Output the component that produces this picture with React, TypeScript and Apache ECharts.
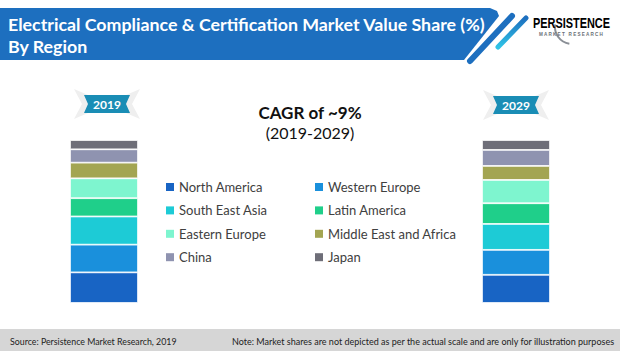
import React, { useEffect, useRef } from "react";
import * as echarts from "echarts";

const regions = [
  "North America",
  "Western Europe",
  "South East Asia",
  "Latin America",
  "Eastern Europe",
  "Middle East and Africa",
  "China",
  "Japan",
];
const colors = ["#1864c4", "#1a90dc", "#1dcbd6", "#1fcf8a", "#7ef5cf", "#a3a552", "#8f93b0", "#6e6e78"];
const share2019 = [18.8, 17.0, 17.3, 11.2, 12.2, 9.6, 8.2, 5.7];
const share2029 = [17.3, 15.3, 15.9, 12.7, 14.3, 8.6, 9.8, 6.1];
const years = ["2019", "2029"];
const legendCol1 = ["North America", "South East Asia", "Eastern Europe", "China"];
const legendCol2 = ["Western Europe", "Latin America", "Middle East and Africa", "Japan"];

function badge(cx: number, cy: number, label: string) {
  const w = 46, h = 18, n = 4;
  const l = cx - w / 2, r = cx + w / 2, t = cy - h / 2, b = cy + h / 2;
  return [
    {
      type: "polygon",
      shape: { points: [[l - 10, t - 6], [l + 4, t], [l + 4, b], [l - 10, b + 6], [l - 2, cy]] },
      style: { fill: "#efefef" },
    },
    {
      type: "polygon",
      shape: { points: [[r + 10, t - 6], [r - 4, t], [r - 4, b], [r + 10, b + 6], [r + 2, cy]] },
      style: { fill: "#efefef" },
    },
    {
      type: "polygon",
      shape: { points: [[l, t], [r, t], [r - n, cy], [r, b], [l, b], [l + n, cy]] },
      style: { fill: "#1a8db5" },
    },
    {
      type: "text",
      style: {
        text: label, x: cx, y: cy + 0.5, fill: "#ffffff", fontSize: 12, fontWeight: "bold",
        fontFamily: "Lato", textAlign: "center", textVerticalAlign: "middle",
      },
    },
  ];
}

export default function App() {
  const ref = useRef<HTMLDivElement>(null);
  useEffect(() => {
    if (!ref.current) return;
    const chart = echarts.init(ref.current, undefined, { renderer: "svg" });
    const series: any[] = [];
    regions.forEach((name, i) => {
      series.push({
        name, type: "bar", stack: "a", xAxisIndex: 0, yAxisIndex: 0, barWidth: "100%",
        data: [share2019[i]],
        itemStyle: { color: colors[i], borderColor: "#ffffff", borderWidth: 0.8 },
      });
      series.push({
        name, type: "bar", stack: "b", xAxisIndex: 1, yAxisIndex: 1, barWidth: "100%",
        data: [share2029[i]],
        itemStyle: { color: colors[i], borderColor: "#ffffff", borderWidth: 0.8 },
      });
    });
    const legendBase = {
      orient: "vertical", icon: "rect", itemWidth: 8, itemHeight: 8, itemGap: 7.4,
      selectedMode: false,
      itemStyle: { borderWidth: 0 },
      textStyle: { fontSize: 13, color: "#404040", fontFamily: "Lato", lineHeight: 16 },
    };
    chart.setOption({
      animation: false,
      backgroundColor: "#ffffff",
      grid: [
        { left: 70, top: 140, width: 68, height: 163 },
        { left: 482, top: 140, width: 68, height: 163 },
      ],
      xAxis: [
        { type: "category", gridIndex: 0, data: [years[0]], show: false },
        { type: "category", gridIndex: 1, data: [years[1]], show: false },
      ],
      yAxis: [
        { type: "value", gridIndex: 0, min: 0, max: 100, show: false },
        { type: "value", gridIndex: 1, min: 0, max: 100, show: false },
      ],
      legend: [
        { ...legendBase, left: 161, top: 174, data: legendCol1 },
        { ...legendBase, left: 310, top: 174, data: legendCol2 },
      ],
      series,
      graphic: [
        {
          type: "polygon",
          shape: { points: [[0, 8], [490, 8], [497, 11], [499, 16], [464, 60], [0, 60]] },
          style: { fill: "#1d6fbf" },
        },
        {
          type: "line",
          shape: { x1: 512, y1: 16, x2: 470, y2: 61 },
          style: { stroke: "#1d6fbf", lineWidth: 6, lineCap: "round" },
        },
        {
          type: "line",
          shape: { x1: 526, y1: 18, x2: 498, y2: 47 },
          style: {
            stroke: new echarts.graphic.LinearGradient(0, 0, 0, 1, [
              { offset: 0, color: "#1d6fbf" },
              { offset: 1, color: "#2fc3e6" },
            ]),
            lineWidth: 5, lineCap: "round",
          },
        },
        {
          type: "text",
          style: {
            text: "Electrical Compliance & Certification Market Value Share (%)",
            x: 8, y: 24, fill: "#ffffff", fontSize: 17.8, fontWeight: "bold", fontFamily: "Lato",
            textVerticalAlign: "middle",
          },
        },
        {
          type: "text",
          style: {
            text: "By Region", x: 8, y: 46, fill: "#ffffff", fontSize: 17.8, fontWeight: "bold",
            fontFamily: "Lato", textVerticalAlign: "middle",
          },
        },
        {
          type: "arc",
          shape: { cx: 572, cy: 27, r: 17, startAngle: Math.PI * 0.55, endAngle: Math.PI * 1.05 },
          style: { stroke: "#8a8f96", lineWidth: 2, fill: "none" },
        },
        {
          type: "text",
          x: 533, y: 24, scaleX: 0.78,
          style: {
            text: "PERSISTENCE", x: 0, y: 0, fontSize: 14, fontWeight: "bold",
            fontFamily: "Liberation Sans", textVerticalAlign: "middle",
            fill: new echarts.graphic.LinearGradient(0, 0, 1, 0, [
              { offset: 0, color: "#2a6cb8" },
              { offset: 1, color: "#23a8c4" },
            ]),
          },
        },
        {
          type: "text",
          style: {
            text: "M A R K E T   R E S E A R C H", x: 571, y: 34, fontSize: 4.6, fontWeight: "bold",
            fontFamily: "Liberation Sans", fill: "#6a6f76", textAlign: "center", textVerticalAlign: "middle",
          },
        },
        ...badge(107, 104, years[0]),
        ...badge(516, 105, years[1]),
        {
          type: "text",
          style: {
            text: "CAGR of ~9%", x: 310, y: 112, fill: "#111111", fontSize: 17, fontWeight: "bold",
            fontFamily: "Lato", textAlign: "center", textVerticalAlign: "middle",
          },
        },
        {
          type: "text",
          style: {
            text: "(2019-2029)", x: 310, y: 132, fill: "#111111", fontSize: 16,
            fontFamily: "Lato", textAlign: "center", textVerticalAlign: "middle",
          },
        },
        {
          type: "rect",
          shape: { x: 0, y: 329, width: 620, height: 22 },
          style: { fill: "#d6d6d6" },
        },
        {
          type: "text",
          style: {
            text: "Source: Persistence Market Research, 2019", x: 10, y: 341, fill: "#222222",
            fontSize: 8.8, fontFamily: "Lato", textVerticalAlign: "middle",
          },
        },
        {
          type: "text",
          style: {
            text: "Note: Market shares are not depicted as per the actual scale and are only for illustration purposes",
            x: 232, y: 341, fill: "#222222", fontSize: 9, fontFamily: "Lato", textVerticalAlign: "middle",
          },
        },
      ],
    });
    return () => chart.dispose();
  }, []);
  return (
    <div
      ref={ref}
      style={{ position: "fixed", left: 0, top: 0, width: 620, height: 351, background: "#fff" }}
    />
  );
}
